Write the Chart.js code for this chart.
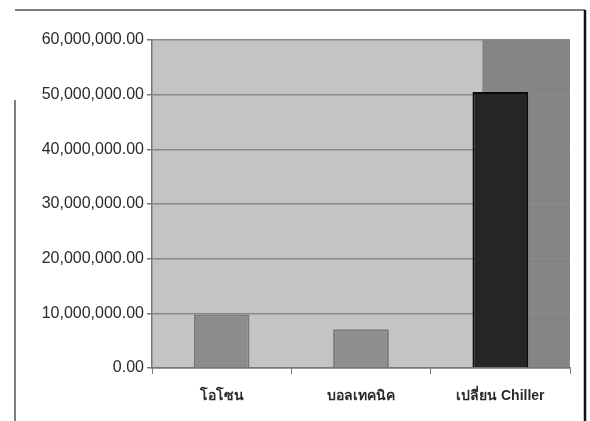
<!DOCTYPE html>
<html>
<head>
<meta charset="utf-8">
<script src="https://cdn.jsdelivr.net/npm/chart.js@4"></script>
<style>
    html, body { margin: 0; padding: 0; background: #fff; }
    #wrap { width: 590px; height: 421px; position: relative; }
</style>
</head>
<body>
<div id="wrap"><canvas id="chart" width="590" height="421"></canvas></div>
<script>
(function () {
    const categories = ['โอโซน', 'บอลเทคนิค', 'เปลี่ยน Chiller']
    const values = [9800000, 7100000, 50500000]
    const barColors = ['#8c8c8c', '#8e8e8e', '#252525']
    const barBorders = ['#7a7a7a', '#7a7a7a', '#0a0a0a']

    const fmt = new Intl.NumberFormat('en-US', { minimumFractionDigits: 2, maximumFractionDigits: 2 })

    // scanned-page look: plot background, darker band behind last bar, outer frame
    const backdrop = {
        id: 'backdrop',
        beforeDraw(chart) {
            const { ctx, chartArea: a, scales } = chart
            ctx.save()
            ctx.fillStyle = '#c4c4c4'
            ctx.fillRect(a.left, a.top, a.right - a.left, a.bottom - a.top)
            const bandStart = scales.x.getPixelForValue(2) - 18
            ctx.fillStyle = '#858585'
            ctx.fillRect(bandStart, a.top, a.right - bandStart, a.bottom - a.top)
            ctx.restore()
        },
        afterDraw(chart) {
            const ctx = chart.ctx
            ctx.save()
            ctx.strokeStyle = '#555'
            ctx.lineWidth = 1.5
            ctx.beginPath()
            ctx.moveTo(15, 100); ctx.lineTo(15, 421)
            ctx.moveTo(15, 10); ctx.lineTo(585, 10)
            ctx.stroke()
            ctx.strokeStyle = '#111'
            ctx.lineWidth = 2.5
            ctx.beginPath()
            ctx.moveTo(585, 10); ctx.lineTo(585, 421)
            ctx.stroke()
            ctx.restore()
        }
    }

    const data = {
        labels: categories,
        datasets: [{
            data: values,
            backgroundColor: barColors,
            borderColor: barBorders,
            borderWidth: 2,
            categoryPercentage: 0.4,
            barPercentage: 1.0
        }]
    }

    const config = {
        type: 'bar',
        data: data,
        plugins: [backdrop],
        options: {
            responsive: false,
            animation: false,
            layout: { padding: { left: 18, top: 40, right: 20, bottom: 0 } },
            plugins: {
                legend: { display: false },
                tooltip: { enabled: false }
            },
            scales: {
                y: {
                    min: 0,
                    max: 60000000,
                    ticks: {
                        stepSize: 10000000,
                        color: '#2a2a2a',
                        font: { family: 'Liberation Sans, Arial', size: 16 },
                        padding: 3,
                        callback: v => fmt.format(v)
                    },
                    grid: { color: '#8a8a8a', lineWidth: 1.5, tickLength: 5, tickColor: '#777' },
                    border: { color: '#777', width: 1.5 },
                    afterFit(scale) { scale.width = 134 }
                },
                x: {
                    ticks: {
                        color: '#2a2a2a',
                        font: { family: 'Liberation Sans, Arial', size: 14, weight: 'bold' },
                        padding: 14
                    },
                    grid: { drawOnChartArea: false, tickLength: 6, color: '#777', offset: true },
                    border: { color: '#777', width: 1.5 },
                    afterFit(scale) { scale.height = 53 }
                }
            }
        }
    }

    new Chart(document.getElementById('chart'), config)
})()
</script>
</body>
</html>
